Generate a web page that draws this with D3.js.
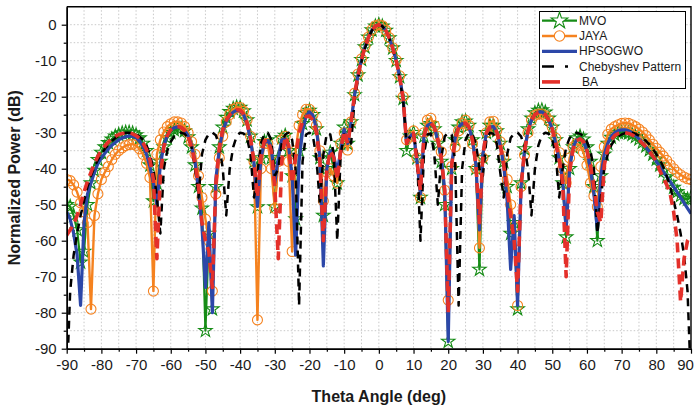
<!DOCTYPE html>
<html>
<head>
<meta charset="utf-8">
<script src="https://cdn.jsdelivr.net/npm/d3@7"></script>
<style>
  body { margin: 0; background: #fff; }
  svg { display: block; font-family: "Liberation Sans", Arial, sans-serif; }
</style>
</head>
<body>
<div id="chart"></div>
<script>
// sampling grid of the pattern, one value per degree
const theta = d3.range(-90, 91);

// MVO
const mvo = [
  -50, -50.5, -53, -57, -66, -63, -50, -44, -40.5, -37.5,
  -35.5, -34, -32.8, -31.8, -31, -30.5, -30.1, -29.9, -29.9, -30.1,
  -30.6, -31.5, -33, -35, -39, -49, -44, -38, -34, -31.5,
  -30, -29.2, -28.8, -28.8, -29.5, -31.2, -34, -39, -45, -51,
  -85, -58, -79, -45, -34, -28.5, -25.8, -24.2, -23.3, -22.9,
  -23, -24, -26.5, -31, -38, -50.6, -37, -32.5, -32, -37,
  -50.6, -37, -31.5, -30.8, -35, -42, -54, -35, -27.5, -24.5,
  -23.8, -25, -29, -37, -53, -40, -35.5, -40, -44, -33,
  -28.5, -33, -27, -19.5, -14, -9.7, -6.2, -3.5, -1.5, -0.4,
  0, -0.4, -1.6, -3.7, -6.5, -10, -14.5, -20.5, -35, -31,
  -30, -37, -48, -31, -28, -27.5, -29, -33, -38, -50,
  -88, -40, -32, -28.5, -27, -26.8, -28, -32, -40, -68,
  -37, -30, -28, -28, -29.5, -33, -38, -45, -58, -55,
  -79, -44, -34.5, -29, -26, -24.5, -23.8, -23.7, -24.3, -26,
  -28.5, -32, -37, -44, -59, -40, -34, -31.5, -31, -31.8,
  -34, -38, -45, -60, -42, -36, -33, -31.3, -30.5, -30,
  -29.9, -29.9, -30.1, -30.5, -31.1, -31.8, -32.7, -33.7, -34.8, -36,
  -37.4, -39, -40.7, -42.3, -43.8, -45.2, -46.4, -47.5, -48.3, -48.5,
  -48
];

// JAYA
const jaya = [
  -43, -43.3, -44.5, -46.5, -49.5, -52, -55, -79, -53, -47,
  -43, -41, -39.4, -37.5, -36, -35, -34.2, -33.6, -33.3, -33.2,
  -33.5, -34.5, -36, -38.5, -42.5, -74, -36, -32, -29.8, -28.3,
  -27.5, -27, -27, -27.3, -28.3, -30, -32.5, -36, -42, -48,
  -54, -60, -74, -47, -37, -31, -27, -25, -23.5, -23,
  -23, -24, -26.5, -31, -38, -82, -40, -33, -33, -40,
  -51, -38, -32, -31, -38, -63, -35, -28, -25, -23.5,
  -23.5, -25, -28, -35, -49, -41, -40, -42, -44, -33,
  -30, -34.8, -27, -19, -13.7, -9.5, -6, -3.4, -1.4, -0.3,
  0, -0.3, -1.5, -3.6, -6.4, -9.8, -14.2, -20, -32, -31,
  -29.5, -37, -48, -30, -26.5, -26, -28, -31, -35.3, -46,
  -76.5, -39.4, -33.9, -29.5, -27.4, -26.5, -28, -33, -40, -62,
  -37, -30, -27, -26.8, -29.4, -32.5, -36.7, -43, -50, -56,
  -78, -45, -36.2, -30, -26.5, -25.2, -24.8, -24.8, -25.3, -26.5,
  -28.5, -31.5, -35.5, -40, -44, -37, -34, -33, -33.5, -35.5,
  -39, -44, -47.6, -50.6, -39.4, -33.9, -30.5, -29, -28.3, -27.8,
  -27.4, -27.3, -27.4, -27.8, -28.3, -29, -29.8, -30.8, -32, -33.2,
  -34.3, -35.4, -36.5, -37.7, -38.9, -40, -41, -41.7, -42.3, -42.8,
  -43
];

// HPSOGWO
const hpsogwo = [
  -52, -54, -58, -64, -78, -55, -47, -44, -41, -38.5,
  -37, -35.7, -34.5, -33.5, -32.7, -32, -31.5, -31.1, -30.9, -31,
  -31.4, -32.3, -33.8, -36, -39.5, -44, -50, -39, -33.5, -30.8,
  -29.3, -28.6, -28.4, -28.5, -29.3, -30.8, -33.5, -38, -46, -56,
  -73, -55, -80, -43, -34.5, -29.5, -27, -25.3, -24.3, -23.8,
  -23.9, -25, -27.5, -32, -38.5, -50.5, -37, -32.8, -32.2, -34,
  -44, -37, -32, -31.8, -34, -42, -64, -38, -29.5, -25.5,
  -24.2, -25.2, -29, -37, -67, -40, -35, -36.5, -41, -35,
  -29, -33, -27, -19.5, -14, -9.7, -6.2, -3.5, -1.5, -0.4,
  0, -0.4, -1.6, -3.7, -6.5, -10, -14.5, -20.5, -33, -31,
  -30.2, -38, -47, -31, -28, -27.4, -28.5, -32, -37, -46,
  -88, -39, -31.5, -28.5, -27.5, -27.4, -28.5, -32, -39, -57,
  -36, -30, -28.5, -28.3, -29.8, -33.5, -39, -49, -68, -53,
  -78, -45, -35, -29.5, -26.5, -25, -24.3, -24.2, -25, -26.5,
  -29, -33, -37.5, -43, -57, -40, -34, -32, -31.6, -32.5,
  -35, -40, -47, -57, -42, -36, -33, -31, -30, -29.4,
  -29.2, -29.2, -29.5, -30, -30.8, -31.7, -32.8, -34, -35.3, -36.6,
  -38, -39.4, -40.8, -42.2, -43.6, -45, -46.5, -48, -49.5, -51,
  -52.5
];

// Chebyshev Pattern
const chebyshev = [
  -100, -74, -64, -58, -53, -49, -45, -42, -39.5, -37.5,
  -36, -34.5, -33.3, -32.3, -31.5, -30.8, -30.3, -30, -30, -30.1,
  -30.5, -31, -32, -33.5, -36, -40, -48, -58, -40, -35,
  -32.5, -31, -30.3, -30, -30.3, -31.5, -34, -40, -48, -36,
  -32, -30.3, -30, -30.7, -33.5, -40, -53, -40, -34, -31,
  -30, -30.2, -31.5, -36, -48, -41, -33, -30.3, -30, -32,
  -42, -40, -33, -30.5, -30, -32, -40, -78, -38, -30.5,
  -30, -31, -37, -50, -36, -30.2, -30.5, -36, -60, -36,
  -30.5, -31, -33, -21, -15, -10.3, -6.6, -3.7, -1.6, -0.4,
  0, -0.4, -1.6, -3.7, -6.6, -10.3, -15, -21, -33, -31,
  -30.5, -36, -60, -36, -30.5, -30.2, -36, -50, -37, -31,
  -30, -30.5, -38, -78, -40, -32, -30, -30.5, -33, -40,
  -42, -32, -30, -30.3, -33, -41, -48, -36, -31.5, -30.2,
  -30, -31, -34, -40, -53, -40, -33.5, -30.7, -30, -30.3,
  -32, -36, -48, -40, -34, -31.5, -30.3, -30, -30.3, -31,
  -32.5, -35, -40, -58, -48, -40, -36, -33.5, -32, -31,
  -30.5, -30.1, -30, -30, -30.3, -30.8, -31.5, -32.3, -33.3, -34.5,
  -36, -37.5, -39.5, -42, -45, -49, -53, -58, -64, -74,
  -100
];

// BA
const ba = [
  -58.5, -57, -55.5, -53, -50, -46.5, -43.5, -41, -38.5, -36.5,
  -35, -33.7, -32.6, -31.7, -31, -30.5, -30.2, -30.1, -30.1, -30.3,
  -30.8, -31.6, -32.8, -34.6, -37.5, -43, -65, -42, -34, -30.8,
  -29.2, -28.5, -28.3, -28.5, -29.3, -31, -34, -38.5, -45, -55,
  -60, -63, -73, -44, -34, -29, -26.5, -25, -24, -23.6,
  -23.7, -24.8, -27.3, -31.5, -38, -48, -36.5, -32.3, -32, -35,
  -45, -65, -38, -31, -33.5, -44, -37, -30, -27, -25.5,
  -25.4, -26.5, -30, -38, -60, -40, -35, -37, -43, -35,
  -29.5, -33, -27, -19.5, -14, -9.7, -6.2, -3.5, -1.5, -0.4,
  0, -0.4, -1.6, -3.7, -6.5, -10, -14.5, -20.5, -33, -31,
  -30.2, -38, -46, -31, -28, -27.4, -28.5, -32, -37, -46,
  -80, -39, -31.5, -28.5, -27.5, -27.4, -28.5, -32, -39, -55,
  -36, -30, -28.5, -28.3, -29.8, -33.5, -39, -46, -53, -60,
  -74, -45, -35, -29.5, -26.5, -25, -24.3, -24.2, -25, -26.5,
  -29, -33, -37.5, -44, -70, -41, -34.5, -32.2, -31.7, -32.5,
  -35, -39, -45, -52, -55, -39, -34.5, -32, -30.8, -30.2,
  -30, -30, -30.2, -30.6, -31.2, -32, -33, -34, -35.2, -36.5,
  -38, -40.5, -42.5, -44.5, -47, -52, -60, -77, -65, -60,
  -58.5
];

const xTicks = [-90, -80, -70, -60, -50, -40, -30, -20, -10, 0, 10, 20, 30, 40, 50, 60, 70, 80, 90];
const yTicks = [-90, -80, -70, -60, -50, -40, -30, -20, -10, 0];

const series = [
  { name: 'MVO', values: mvo, color: '#168c16', width: 2.2, dash: null, marker: 'star' },
  { name: 'JAYA', values: jaya, color: '#f5821f', width: 2.4, dash: null, marker: 'circle' },
  { name: 'HPSOGWO', values: hpsogwo, color: '#2c47a8', width: 3.2, dash: null, marker: null },
  { name: 'Chebyshev Pattern', values: chebyshev, color: '#000000', width: 2.5, dash: '8,6', marker: null },
  { name: 'BA', values: ba, color: '#e4302a', width: 3.6, dash: '10,6', marker: null }
];

const W = 694, H = 407;
const margin = { top: 6.7, right: 3, bottom: 58.3, left: 66.7 };
const iw = W - margin.left - margin.right;
const ih = H - margin.top - margin.bottom;

const svg = d3.select('#chart').append('svg')
  .attr('width', W).attr('height', H);

const x = d3.scaleLinear().domain([-90, 90]).range([margin.left, margin.left + iw]);
const y = d3.scaleLinear().domain([-90, 5]).range([margin.top + ih, margin.top]);

// grid every 5 units, dotted
const gridX = d3.range(-85, 90, 5);
const gridY = d3.range(-85, 5, 5);
const grid = svg.append('g').attr('stroke', '#c9c9c9').attr('stroke-width', 1).attr('stroke-dasharray', '1.5,2');
grid.selectAll('.gx').data(gridX).join('line')
  .attr('x1', d => x(d)).attr('x2', d => x(d))
  .attr('y1', margin.top).attr('y2', margin.top + ih);
grid.selectAll('.gy').data(gridY).join('line')
  .attr('y1', d => y(d)).attr('y2', d => y(d))
  .attr('x1', margin.left).attr('x2', margin.left + iw);

// clip for the curves
svg.append('clipPath').attr('id', 'plotClip')
  .append('rect')
  .attr('x', margin.left).attr('y', margin.top)
  .attr('width', iw).attr('height', ih);

const plot = svg.append('g').attr('clip-path', 'url(#plotClip)');

const line = d3.line()
  .x(d => x(d[0]))
  .y(d => y(d[1]));

const star = d3.symbol().type(d3.symbolStar).size(56);

series.forEach(s => {
  const pts = theta.map((t, i) => [t, s.values[i]]);
  const g = plot.append('g');
  g.append('path')
    .datum(pts)
    .attr('fill', 'none')
    .attr('stroke', s.color)
    .attr('stroke-width', s.width)
    .attr('stroke-linejoin', 'round')
    .attr('stroke-dasharray', s.dash)
    .attr('d', line);

  if (s.marker === 'star') {
    g.selectAll('path.mk').data(pts).join('path')
      .attr('class', 'mk')
      .attr('transform', d => `translate(${x(d[0])},${y(d[1])})`)
      .attr('d', star)
      .attr('fill', 'none')
      .attr('stroke', s.color)
      .attr('stroke-width', 1.1);
  }
  if (s.marker === 'circle') {
    g.selectAll('circle').data(pts).join('circle')
      .attr('cx', d => x(d[0]))
      .attr('cy', d => y(d[1]))
      .attr('r', 5)
      .attr('fill', 'none')
      .attr('stroke', s.color)
      .attr('stroke-width', 1.1);
  }
});

// axes
const axisFont = 15;
const gx = svg.append('g')
  .attr('transform', `translate(0,${margin.top + ih})`)
  .call(d3.axisBottom(x).tickValues(xTicks).tickSize(5).tickSizeOuter(0).tickPadding(6));
svg.append('g')
  .attr('transform', `translate(0,${margin.top + ih})`)
  .call(d3.axisBottom(x).tickValues(d3.range(-85, 90, 10)).tickSize(3).tickFormat('').tickSizeOuter(0));

const gy = svg.append('g')
  .attr('transform', `translate(${margin.left},0)`)
  .call(d3.axisLeft(y).tickValues(yTicks).tickSize(5).tickSizeOuter(0).tickPadding(5));
svg.append('g')
  .attr('transform', `translate(${margin.left},0)`)
  .call(d3.axisLeft(y).tickValues(d3.range(-85, 5, 10)).tickSize(3).tickFormat('').tickSizeOuter(0));

svg.selectAll('.domain').attr('stroke', '#000').attr('stroke-width', 1.4);
svg.selectAll('.tick line').attr('stroke', '#000').attr('stroke-width', 1.2);
[gx, gy].forEach(g => g.selectAll('text')
  .attr('font-size', axisFont)
  .attr('fill', '#1a1a1a')
  .style('font-family', '"Liberation Sans", Arial, sans-serif'));
gx.selectAll('text').text(d => d < 0 ? '-' + Math.abs(d) : d);
gy.selectAll('text').text(d => d < 0 ? '-' + Math.abs(d) : d);
// keep the last label inside the page
gx.selectAll('.tick').filter(d => d === 90).select('text').attr('dx', -6);

// top and right frame
svg.append('path')
  .attr('d', `M${margin.left},${margin.top}H${margin.left + iw}V${margin.top + ih}`)
  .attr('fill', 'none').attr('stroke', '#000').attr('stroke-width', 1.4);

// axis titles
svg.append('text')
  .attr('x', x(0)).attr('y', 402)
  .attr('text-anchor', 'middle')
  .attr('font-size', 16).attr('font-weight', 'bold').attr('fill', '#1a1a1a')
  .text('Theta Angle (deg)');

svg.append('text')
  .attr('transform', `translate(14,${margin.top + ih / 2}) rotate(-90)`)
  .attr('text-anchor', 'middle')
  .attr('dominant-baseline', 'central')
  .attr('font-size', 16).attr('font-weight', 'bold').attr('fill', '#1a1a1a')
  .text('Normalized Power (dB)');

// legend
const lg = svg.append('g');
lg.append('rect')
  .attr('x', 539.5).attr('y', 11.5).attr('width', 146).attr('height', 77)
  .attr('fill', '#fff').attr('stroke', '#000').attr('stroke-width', 1);

series.forEach((s, i) => {
  const cy = 20.7 + i * 15.3;
  lg.append('line')
    .attr('x1', 542).attr('x2', 577).attr('y1', cy).attr('y2', cy)
    .attr('stroke', s.color).attr('stroke-width', s.width)
    .attr('stroke-dasharray', s.dash === null ? null : (s.name === 'BA' ? '18,20' : '12,11,3,20'));
  if (s.marker === 'star') {
    lg.append('path').attr('transform', `translate(559.5,${cy})`)
      .attr('d', d3.symbol().type(d3.symbolStar).size(85)())
      .attr('fill', '#fff').attr('stroke', s.color).attr('stroke-width', 1.1);
  }
  if (s.marker === 'circle') {
    lg.append('circle').attr('cx', 559.5).attr('cy', cy).attr('r', 5.2)
      .attr('fill', '#fff').attr('stroke', s.color).attr('stroke-width', 1.1);
  }
  lg.append('text')
    .attr('x', s.name === 'BA' ? 582 : 579).attr('y', cy)
    .attr('dominant-baseline', 'central')
    .attr('font-size', 12).attr('fill', '#1a1a1a')
    .text(s.name);
});
</script>
</body>
</html>
